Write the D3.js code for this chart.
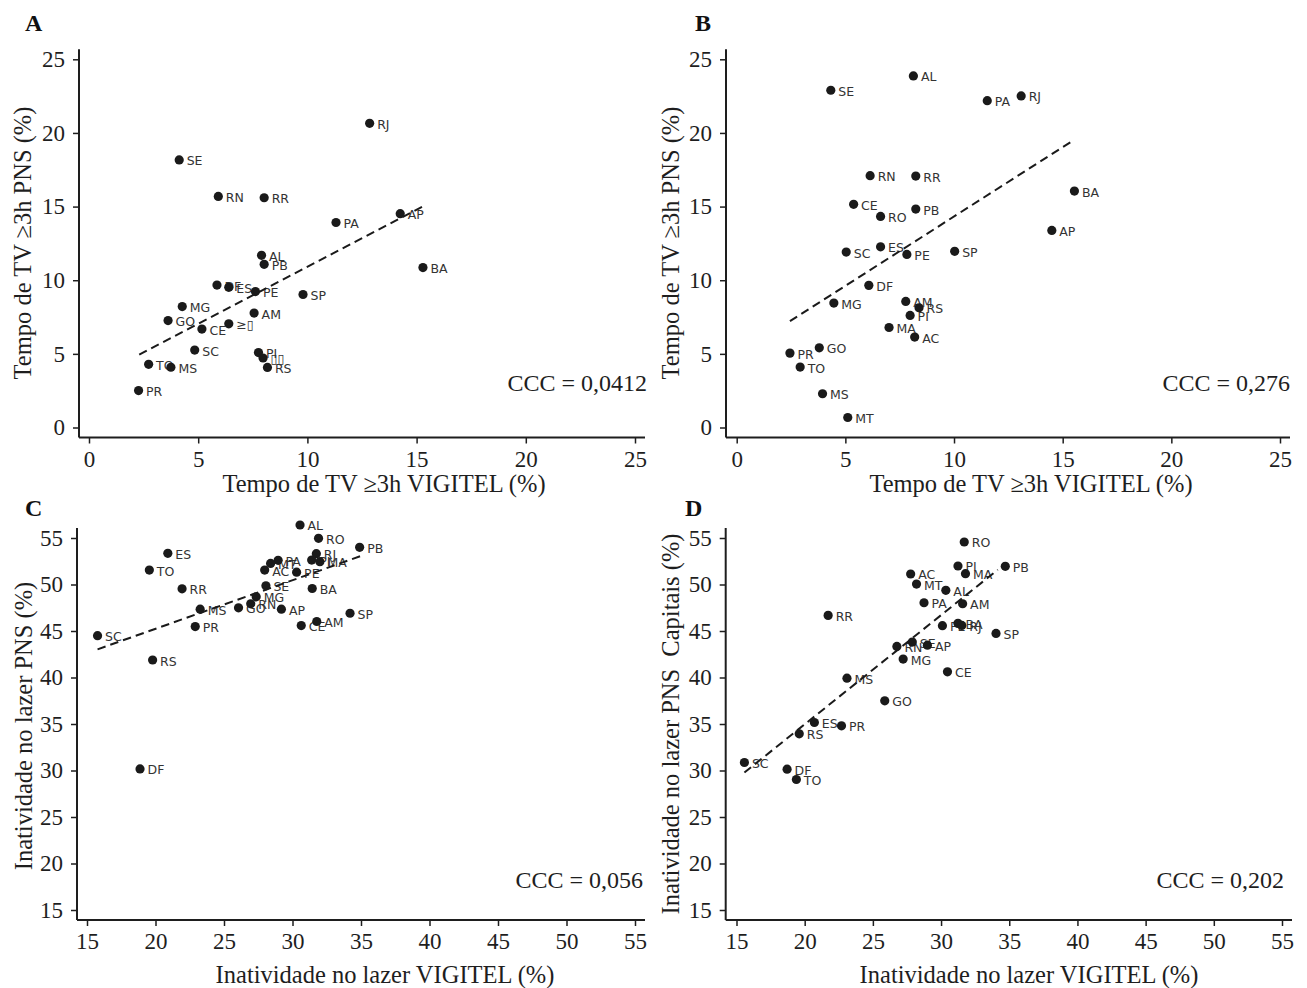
<!DOCTYPE html>
<html><head><meta charset="utf-8">
<script src="https://cdn.jsdelivr.net/npm/d3@7"></script>
<style>body{margin:0;background:#fff}svg{display:block}</style>
</head><body><svg id="c" width="1307" height="988"></svg>
<script>
// ---------- DATA ----------
const statesA = ["RJ","SE","RN","RR","PA","AP","AL","PB","BA","DF","ES","PE","SP","MG","AM","GO","CE","≥\u25AF","SC","PI","\u25AF\u25AF","RS","TO","MS","PR"];
const vigitelA = [12.85,4.13,5.92,8.02,11.31,14.25,7.9,8.02,15.29,5.86,6.4,7.62,9.8,4.27,7.56,3.62,5.17,6.4,4.84,7.76,7.97,8.17,2.73,3.75,2.27];
const pnsA = [20.65,18.17,15.69,15.6,13.92,14.52,11.69,11.08,10.86,9.67,9.52,9.23,9.03,8.21,7.77,7.26,6.68,7.04,5.26,5.09,4.72,4.08,4.29,4.09,2.51];
const fitAx = [2.3, 15.3], fitAy = [4.95, 15.02];

const statesB = ["AL","SE","PA","RJ","RN","RR","BA","CE","PB","RO","AP","SC","ES","PE","SP","DF","MG","AM","RS","PI","MA","AC","PR","GO","TO","MS","MT"];
const vigitelB = [8.13,4.33,11.53,13.09,6.14,8.24,15.54,5.38,8.24,6.62,14.5,5.04,6.62,7.83,10.03,6.08,4.47,7.78,8.39,7.98,7.01,8.19,2.45,3.8,2.92,3.95,5.11];
const pnsB = [23.87,22.9,22.19,22.51,17.1,17.07,16.05,15.15,14.83,14.33,13.38,11.91,12.27,11.75,11.96,9.65,8.45,8.56,8.13,7.61,6.79,6.14,5.05,5.41,4.1,2.29,0.68];
const fitBx = [2.45, 15.54], fitBy = [7.22, 19.54];

const statesC = ["AL","RO","PB","ES","RJ","PI","MA","PA","MT","AC","TO","PE","SE","BA","RR","MG","RN","GO","MS","AP","SP","AM","CE","PR","SC","RS","DF"];
const vigitelC = [30.55,31.9,34.9,20.9,31.74,31.4,32.0,28.95,28.4,27.97,19.55,30.3,28.06,31.44,21.94,27.35,26.95,26.06,23.26,29.19,34.2,31.77,30.64,22.9,15.77,19.79,18.87];
const pnsC = [56.4,54.96,54.0,53.35,53.31,52.63,52.45,52.6,52.27,51.55,51.55,51.33,49.86,49.57,49.54,48.67,47.92,47.49,47.35,47.35,46.91,46.02,45.58,45.48,44.5,41.88,30.17];
const fitCx = [15.77, 35.06], fitCy = [43.03, 53.1];

const statesD = ["RO","PI","PB","MA","AC","MT","AL","PA","AM","RR","PE","BA","RJ","SP","SE","AP","RN","MG","CE","MS","GO","ES","PR","RS","SC","DF","TO"];
const vigitelD = [31.7,31.24,34.71,31.79,27.77,28.2,30.35,28.75,31.58,21.72,30.1,31.24,31.52,34.03,27.89,29.0,26.76,27.22,30.47,23.1,25.87,20.71,22.7,19.6,15.58,18.71,19.39];
const pnsD = [54.57,51.99,51.95,51.16,51.13,50.05,49.37,48.04,47.93,46.68,45.57,45.82,45.6,44.74,43.81,43.48,43.34,41.98,40.61,39.93,37.49,35.16,34.8,33.94,30.86,30.14,29.03];
const fitDx = [15.58, 34.16], fitDy = [29.78, 51.59];

const ticksTV = [0,5,10,15,20,25];
const ticksInat = [15,20,25,30,35,40,45,50,55];
const domainTV = [0,25];
const domainInat = [15,55];

const letters = ["A","B","C","D"];
const cccTexts = ["CCC = 0,0412","CCC = 0,276","CCC = 0,056","CCC = 0,202"];
const xTitles = ["Tempo de TV ≥3h VIGITEL (%)","Tempo de TV ≥3h VIGITEL (%)","Inatividade no lazer VIGITEL (%)","Inatividade no lazer VIGITEL (%)"];
const yTitles = ["Tempo de TV ≥3h PNS (%)","Tempo de TV ≥3h PNS (%)","Inatividade no lazer PNS (%)","Inatividade no lazer PNS\u00a0 Capitais (%)"];

// ---------- LAYOUT ----------
const layouts = [
  {xr:[89,635],   yr:[427.5,59.3], axX:79,   axY:437.5, letter:[25,31],  ccc:[647,391], xt:[384,492], yt:[31,243]},
  {xr:[736.7,1280], yr:[427.5,59.3], axX:726, axY:437.5, letter:[695,31], ccc:[1290,391], xt:[1031,492], yt:[679,243]},
  {xr:[87,635],   yr:[910,538],    axX:77,   axY:920,   letter:[25,516], ccc:[643,888], xt:[385,983], yt:[32,726]},
  {xr:[736.5,1282], yr:[910,538],  axX:725.7, axY:920,  letter:[685,516], ccc:[1284,888], xt:[1029,983], yt:[679,724]}
];

const panels = [
  {states:statesA, xs:vigitelA, ys:pnsA, fx:fitAx, fy:fitAy, dom:domainTV, ticks:ticksTV},
  {states:statesB, xs:vigitelB, ys:pnsB, fx:fitBx, fy:fitBy, dom:domainTV, ticks:ticksTV},
  {states:statesC, xs:vigitelC, ys:pnsC, fx:fitCx, fy:fitCy, dom:domainInat, ticks:ticksInat},
  {states:statesD, xs:vigitelD, ys:pnsD, fx:fitDx, fy:fitDy, dom:domainInat, ticks:ticksInat}
];

const svg = d3.select("#c");
const serif = "'Liberation Serif', 'Times New Roman', serif";
const sans = "'DejaVu Sans', sans-serif";
const ink = "#1e1e1e";

panels.forEach((p, i) => {
  const L = layouts[i];
  const x = d3.scaleLinear().domain(p.dom).range(L.xr);
  const y = d3.scaleLinear().domain(p.dom).range(L.yr);
  const g = svg.append("g");

  const xa = g.append("g").attr("transform", `translate(0,${L.axY})`)
    .call(d3.axisBottom(x).tickValues(p.ticks).tickSize(6).tickSizeOuter(0).tickPadding(7).tickFormat(d3.format("d")));
  const ya = g.append("g").attr("transform", `translate(${L.axX},0)`)
    .call(d3.axisLeft(y).tickValues(p.ticks).tickSize(6).tickSizeOuter(0).tickPadding(8).tickFormat(d3.format("d")));
  [xa, ya].forEach(a => {
    a.select(".domain").remove();
    a.selectAll(".tick line").attr("stroke", ink).attr("stroke-width", 1.5);
    a.selectAll(".tick text").attr("fill", ink).style("font-family", serif).style("font-size", "23px");
  });
  g.append("line").attr("x1", L.axX).attr("x2", L.xr[1] + 10).attr("y1", L.axY).attr("y2", L.axY)
    .attr("stroke", ink).attr("stroke-width", 2);
  g.append("line").attr("x1", L.axX).attr("x2", L.axX).attr("y1", L.axY).attr("y2", L.yr[1] - 10)
    .attr("stroke", ink).attr("stroke-width", 2);

  g.append("text").attr("x", L.xt[0]).attr("y", L.xt[1]).attr("text-anchor", "middle")
    .style("font-family", serif).style("font-size", "24.5px").attr("fill", ink).text(xTitles[i]);
  g.append("text").attr("transform", `translate(${L.yt[0]},${L.yt[1]}) rotate(-90)`).attr("text-anchor", "middle")
    .style("font-family", serif).style("font-size", "24.5px").attr("fill", ink).text(yTitles[i]);
  g.append("text").attr("x", L.letter[0]).attr("y", L.letter[1])
    .style("font-family", serif).style("font-size", "24px").style("font-weight", "bold").attr("fill", "#111").text(letters[i]);
  g.append("text").attr("x", L.ccc[0]).attr("y", L.ccc[1]).attr("text-anchor", "end")
    .style("font-family", serif).style("font-size", "24px").attr("fill", ink).text(cccTexts[i]);

  const idx = d3.range(p.states.length);
  g.append("g").selectAll("text").data(idx).join("text")
    .attr("x", d => x(p.xs[d]) + 7.5).attr("y", d => y(p.ys[d]) + 5.5)
    .style("font-family", sans).style("font-size", "12.5px").attr("fill", "#333")
    .text(d => p.states[d]);
  g.append("g").selectAll("circle").data(idx).join("circle")
    .attr("cx", d => x(p.xs[d])).attr("cy", d => y(p.ys[d])).attr("r", 4.6).attr("fill", "#1a1a1a");
  g.append("line").attr("x1", x(p.fx[0])).attr("y1", y(p.fy[0])).attr("x2", x(p.fx[1])).attr("y2", y(p.fy[1]))
    .attr("stroke", "#1a1a1a").attr("stroke-width", 2).attr("stroke-dasharray", "8.5,5");
});
</script></body></html>
